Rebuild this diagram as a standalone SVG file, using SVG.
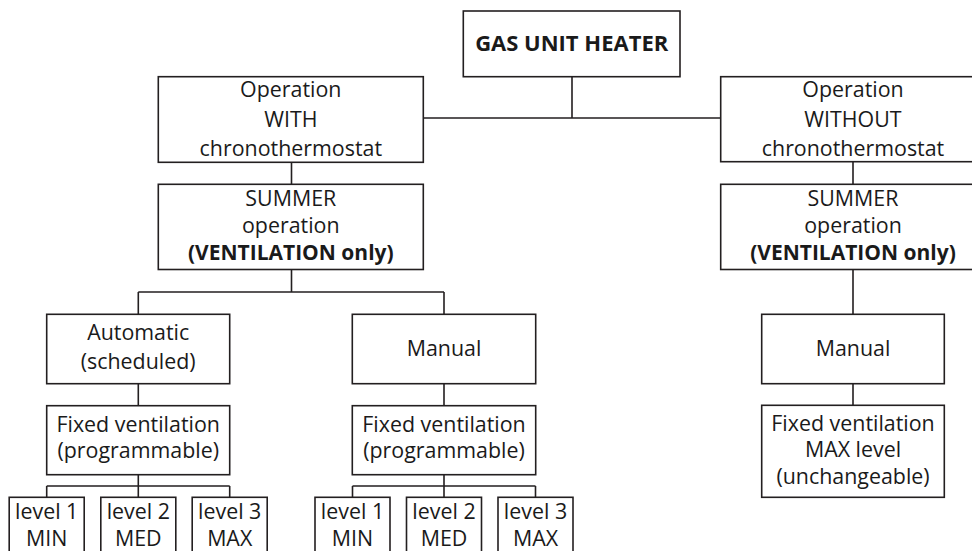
<svg xmlns="http://www.w3.org/2000/svg" width="972" height="551" viewBox="0 0 972 551">
<style>
  .box { fill: #ffffff; stroke: #231f20; stroke-width: 1.6; }
  .lines { fill: none; stroke: #231f20; stroke-width: 1.6; }
  text { font-family: "Open Sans", "Noto Sans", sans-serif; font-size: 21.4px; fill: #1a1a1a; text-anchor: middle; }
  .b { font-weight: bold; }
</style>
<rect width="972" height="551" fill="#ffffff"/>
<g id="connectors" class="lines">
  <path d="M572 76.7 V118 M423.3 118 H720.7"/>
  <path d="M291.5 162.3 V184.3 M853 161.7 V184.3"/>
  <path d="M291.5 269.5 V292 M138.3 292 H444 M138.3 292 V314.3 M444 292 V314.3"/>
  <path d="M138.3 383.7 V405.7 M444 383.7 V405.7"/>
  <path d="M138.3 474.7 V486 M46.7 486 H229.7 M46.7 486 V497.3 M138.3 486 V497.3 M229.7 486 V497.3"/>
  <path d="M444 474.7 V486 M352.5 486 H535.5 M352.5 486 V497.3 M444 486 V497.3 M535.5 486 V497.3"/>
  <path d="M853 269.5 V314.3 M853 383.7 V405.3"/>
</g>
<g id="gas-unit-heater">
  <rect class="box" x="463.3" y="11" width="216.7" height="65.7"/>
  <text class="b" x="571.7" y="51" style="font-size:22px">GAS UNIT HEATER</text>
</g>
<g id="op-with">
  <rect class="box" x="158.3" y="76.7" width="265" height="85.6"/>
  <text x="290.8" y="97.3">Operation</text>
  <text x="290.8" y="126.5">WITH</text>
  <text x="290.8" y="155.5">chronothermostat</text>
</g>
<g id="op-without">
  <rect class="box" x="720.7" y="76.7" width="265" height="85"/>
  <text x="853" y="97.3">Operation</text>
  <text x="853" y="126.5">WITHOUT</text>
  <text x="853" y="155.5">chronothermostat</text>
</g>
<g id="summer-left">
  <rect class="box" x="158.3" y="184.3" width="265" height="85.2"/>
  <text x="290.8" y="206">SUMMER</text>
  <text x="290.8" y="233">operation</text>
  <text class="b" x="290.8" y="260" style="font-size:21px">(VENTILATION only)</text>
</g>
<g id="summer-right">
  <rect class="box" x="720.7" y="184.3" width="265" height="85.2"/>
  <text x="853" y="206">SUMMER</text>
  <text x="853" y="233">operation</text>
  <text class="b" x="853" y="260" style="font-size:21px">(VENTILATION only)</text>
</g>
<g id="automatic">
  <rect class="box" x="46.7" y="314.3" width="183" height="69.4"/>
  <text x="138.2" y="340">Automatic</text>
  <text x="138.2" y="369">(scheduled)</text>
</g>
<g id="manual-mid">
  <rect class="box" x="352.3" y="314.3" width="183.4" height="69.4"/>
  <text x="444" y="356">Manual</text>
</g>
<g id="manual-right">
  <rect class="box" x="761.7" y="314.3" width="182.6" height="69.4"/>
  <text x="853" y="356">Manual</text>
</g>
<g id="fixed-left">
  <rect class="box" x="46.7" y="405.7" width="183" height="69"/>
  <text x="138.2" y="431.7">Fixed ventilation</text>
  <text x="138.2" y="458.3">(programmable)</text>
</g>
<g id="fixed-mid">
  <rect class="box" x="352.3" y="405.7" width="183.4" height="69"/>
  <text x="444" y="431.7">Fixed ventilation</text>
  <text x="444" y="458.3">(programmable)</text>
</g>
<g id="fixed-right">
  <rect class="box" x="761.7" y="405.3" width="182.6" height="92"/>
  <text x="853" y="430.8">Fixed ventilation</text>
  <text x="853" y="457.4">MAX level</text>
  <text x="853" y="484">(unchangeable)</text>
</g>
<g id="level1-left">
  <rect class="box" x="9.2" y="497.3" width="75" height="70"/>
  <text x="46.7" y="518.5">level 1</text>
  <text x="46.7" y="545.5">MIN</text>
</g>
<g id="level2-left">
  <rect class="box" x="100.8" y="497.3" width="75" height="70"/>
  <text x="138.3" y="518.5">level 2</text>
  <text x="138.3" y="545.5">MED</text>
</g>
<g id="level3-left">
  <rect class="box" x="192.2" y="497.3" width="75" height="70"/>
  <text x="229.7" y="518.5">level 3</text>
  <text x="229.7" y="545.5">MAX</text>
</g>
<g id="level1-mid">
  <rect class="box" x="315" y="497.3" width="75" height="70"/>
  <text x="352.5" y="518.5">level 1</text>
  <text x="352.5" y="545.5">MIN</text>
</g>
<g id="level2-mid">
  <rect class="box" x="406.5" y="497.3" width="75" height="70"/>
  <text x="444" y="518.5">level 2</text>
  <text x="444" y="545.5">MED</text>
</g>
<g id="level3-mid">
  <rect class="box" x="498" y="497.3" width="75" height="70"/>
  <text x="535.5" y="518.5">level 3</text>
  <text x="535.5" y="545.5">MAX</text>
</g>
</svg>
